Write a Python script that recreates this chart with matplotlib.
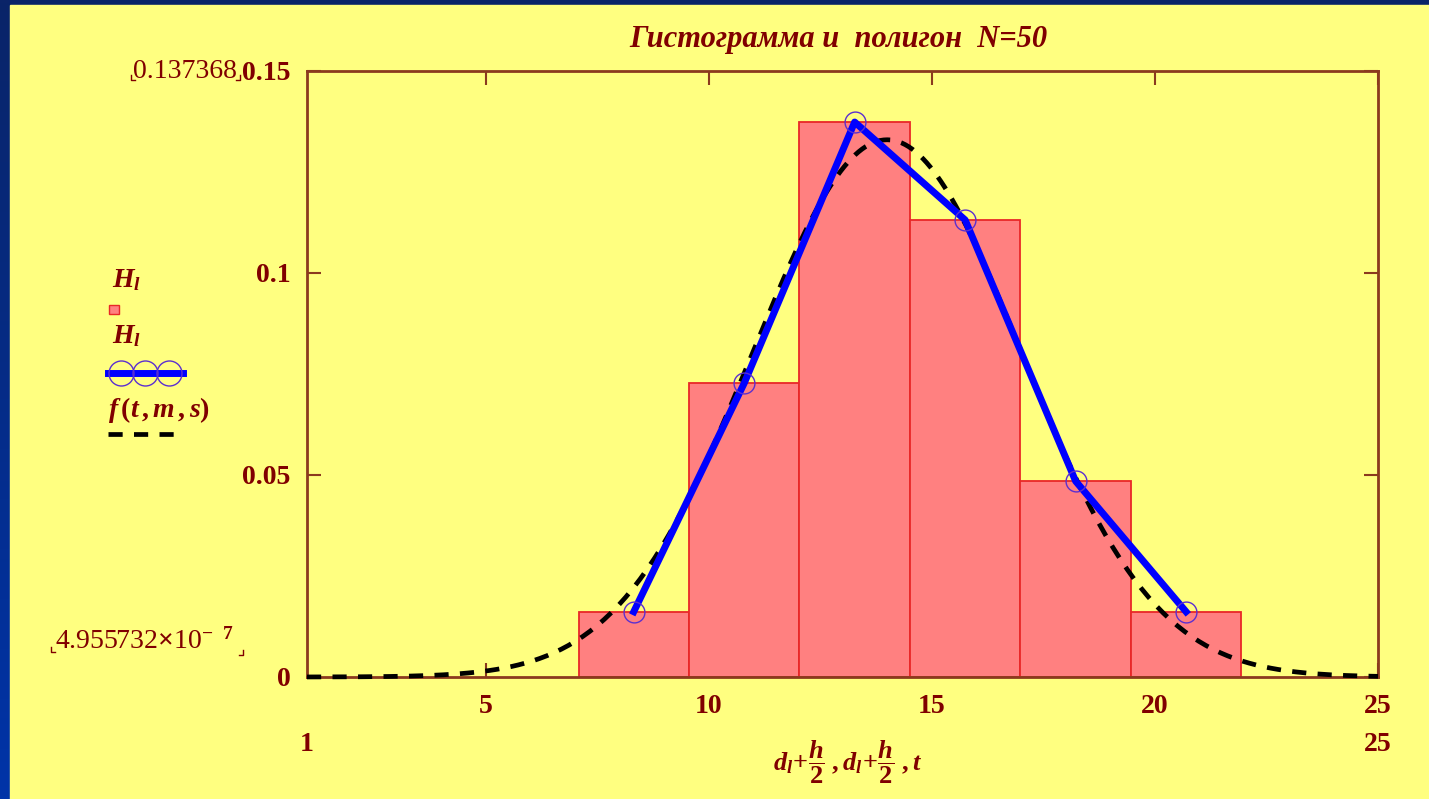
import numpy as np
import matplotlib.pyplot as plt
from matplotlib.lines import Line2D
from matplotlib.patches import Rectangle

plt.rcParams['font.family'] = ['Liberation Serif', 'DejaVu Serif']
plt.rcParams['font.weight'] = 'bold'
plt.rcParams['mathtext.fontset'] = 'custom'
plt.rcParams['mathtext.rm'] = 'Liberation Serif:bold'
plt.rcParams['mathtext.it'] = 'Liberation Serif:italic:bold'
plt.rcParams['mathtext.bf'] = 'Liberation Serif:bold'

# ---------------------- DATA ----------------------
N = 50
h = 2.4752                                   # bin width
d = [7.085, 9.560, 12.035, 14.511, 16.986, 19.461]   # left edges of bins
Hl = [0.016162, 0.072728, 0.137368, 0.113126, 0.048485, 0.016162]  # relative frequency / h
m = 14.0                                     # mean for f(t, m, s)
s = 3.0                                      # std for f(t, m, s)
x_ticks = [5, 10, 15, 20, 25]
y_ticks = [0, 0.05, 0.1, 0.15]
y_tick_labels = ['0', '0.05', '0.1', '0.15']

mid = np.array(d) + h / 2
t = np.linspace(1, 25, 300)
f = np.exp(-(t - m) ** 2 / (2 * s ** 2)) / (s * np.sqrt(2 * np.pi))

# ---------------------- STYLE ----------------------
W, Hp = 1429, 799
maroon = '#800000'
spine_c = '#8b3a1e'
yellow = '#ffff80'
bar_fc = '#ff8080'
bar_ec = '#e82828'
poly_c = '#0000ff'
mark_c = '#5b2fd0'
fs = 20


def px(x, y):
    return x / W, 1 - y / Hp


fig = plt.figure(figsize=(W / 100, Hp / 100), dpi=100)

# blue frame with yellow sheet
bg = fig.add_axes([0, 0, 1, 1])
grad = np.linspace(0, 1, 256).reshape(-1, 1)
bg.imshow(grad, aspect='auto', extent=[0, 1, 0, 1], origin='upper',
          cmap=plt.matplotlib.colors.LinearSegmentedColormap.from_list(
              'frame', ['#0a2468', '#0034a8']))
bg.add_patch(Rectangle((10 / W, 0), 1, 1 - 5 / Hp, color=yellow))
bg.set_xlim(0, 1)
bg.set_ylim(0, 1)
bg.axis('off')

# plot area
x0, y0 = px(307, 677)
x1, y1 = px(1378, 71)
ax = fig.add_axes([x0, y0, x1 - x0, y1 - y0])
ax.set_facecolor(yellow)

ax.bar(d, Hl, width=h, align='edge', color=bar_fc, edgecolor=bar_ec,
       linewidth=1.3, zorder=2)
ax.plot(t, f, color='black', lw=3.4, ls=(0, (3, 2.4)), zorder=3, clip_on=False)
ax.plot(mid, Hl, color=poly_c, lw=5, marker='o', ms=15, mfc='none',
        mec=mark_c, mew=1.0, zorder=4)

ax.set_xlim(1, 25)
ax.set_ylim(0, 0.15)
ax.set_xticks(x_ticks)
ax.set_xticklabels([str(v) for v in x_ticks])
ax.set_yticks(y_ticks)
ax.set_yticklabels(y_tick_labels)
ax.tick_params(direction='in', length=10, width=1.5, color=spine_c,
               top=True, right=True, labelsize=fs, labelcolor=maroon)
ax.tick_params(axis='x', pad=12)
ax.tick_params(axis='y', pad=12)
for sp in ax.spines.values():
    sp.set_color(spine_c)
    sp.set_linewidth(2)

# x range limits under the axis
xt = ax.get_xaxis_transform()
ax.text(1, -0.112, '1', transform=xt, ha='center', va='center',
        size=fs, color=maroon)
ax.text(25, -0.112, '25', transform=xt, ha='center', va='center',
        size=fs, color=maroon)

# title and axis label
fig.text(*px(838, 40), 'Гистограмма и  полигон  N=50', style='italic',
         size=22, color=maroon, ha='center', va='center')
fig.text(*px(848, 762), r'$d_l\!+\!\dfrac{h}{2}\;,d_l\!+\!\dfrac{h}{2}\;,t$',
         size=19, color=maroon, ha='center', va='center')

# y range limits
fig.text(*px(237, 72), '0.137368', size=fs, weight='normal', color=maroon,
         ha='right', va='center')
fig.text(*px(55, 641), r'4.955732$\times$10$^{-\ \ 7}$', size=fs,
         weight='normal', color=maroon, ha='left', va='center')
corner = dict(color=maroon, lw=1.0, transform=fig.transFigure)
for (cx, cy, side) in [(131, 80, -1), (240, 80, 1), (51, 652, -1), (243, 655, 1)]:
    fig.add_artist(Line2D([px(cx, cy - 5)[0], px(cx, cy)[0], px(cx - 4 * side, cy)[0]],
                          [px(cx, cy - 5)[1], px(cx, cy)[1], px(cx - 4 * side, cy)[1]],
                          **corner))

# legend on the left
fig.text(*px(112, 280), r'$H_l$', size=fs, color=maroon, ha='left', va='center')
lx, ly = px(109, 314)
fig.add_artist(Rectangle((lx, ly), 10 / W, 9 / Hp, transform=fig.transFigure,
                         fc=bar_fc, ec=bar_ec, lw=1))
fig.text(*px(112, 336), r'$H_l$', size=fs, color=maroon, ha='left', va='center')
fig.add_artist(Line2D([px(108, 373)[0], px(183, 373)[0]],
                      [px(108, 373)[1], px(183, 373)[1]],
                      color=poly_c, lw=5, transform=fig.transFigure))
for mx in (121, 145, 169):
    fig.add_artist(Line2D([px(mx, 373)[0]], [px(mx, 373)[1]], marker='o',
                          ms=18, mfc='none', mec=mark_c, mew=1.0,
                          transform=fig.transFigure))
fig.text(*px(108, 410), r'$f\,(t\,,m\,,s)$', size=fs, color=maroon,
         ha='left', va='center')
fig.add_artist(Line2D([px(108, 434)[0], px(182, 434)[0]],
                      [px(108, 434)[1], px(182, 434)[1]],
                      color='black', lw=3.4, ls=(0, (3, 2.4)),
                      transform=fig.transFigure))

fig.savefig('out.png', dpi=100)
